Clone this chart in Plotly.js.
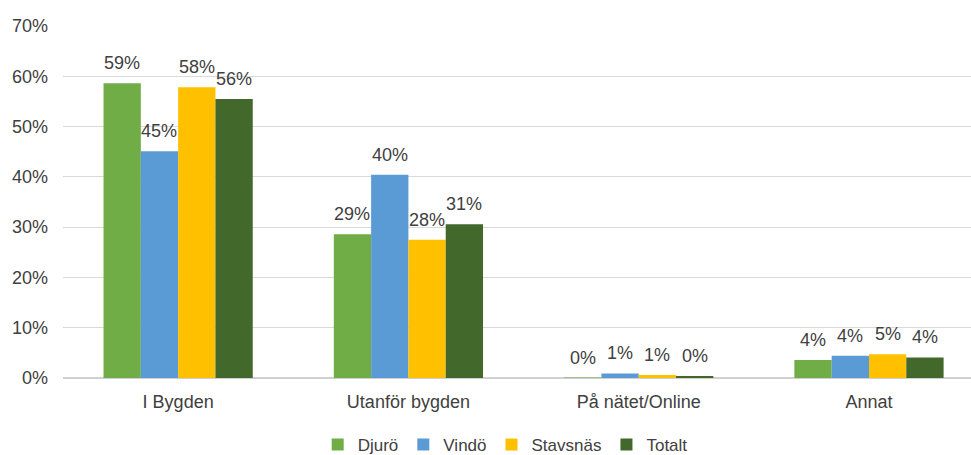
<!DOCTYPE html>
<html>
<head>
<meta charset="utf-8">
<script src="https://cdn.plot.ly/plotly-3.0.1.min.js"></script>
<style>html,body{margin:0;padding:0;background:#fff;}#chart{width:971px;height:455px;}</style>
</head>
<body>
<div id="chart"></div>
<script>
const categories = ["I Bygden", "Utanför bygden", "På nätet/Online", "Annat"];
const seriesNames = ["Djurö", "Vindö", "Stavsnäs", "Totalt"];
const djuro = [58.6, 28.6, 0.1, 3.6];
const vindo = [45.1, 40.4, 0.9, 4.4];
const stavsnas = [57.8, 27.5, 0.6, 4.7];
const totalt = [55.5, 30.6, 0.4, 4.1];
const yTickVals = [0, 10, 20, 30, 40, 50, 60, 70];
const yTickText = ["0%", "10%", "20%", "30%", "40%", "50%", "60%", "70%"];

const colors = ["#70AD47", "#5B9BD5", "#FFC000", "#43682B"];
const allValues = [djuro, vindo, stavsnas, totalt];
const fontFam = "Liberation Sans, Arial, sans-serif";
const textColor = "#404040";

const W = 971, H = 455;
const margin = {l: 63, r: 0, t: 26, b: 77, autoexpand: false};
const xRange = [-0.5, 3.443];
const bargap = 0.352;

const traces = allValues.map((vals, i) => ({
  type: "bar",
  name: seriesNames[i],
  x: categories,
  y: vals,
  marker: {color: colors[i]},
  hoverinfo: "skip"
}));

// value labels, placed through the axes (category + value), offset to each bar of the group
const pxPerCat = (W - margin.l - margin.r) / (xRange[1] - xRange[0]);
const barPx = pxPerCat * (1 - bargap) / allValues.length;
const annotations = [];
allValues.forEach((vals, i) => {
  vals.forEach((v, j) => {
    annotations.push({
      x: categories[j], y: v, xref: "x", yref: "y",
      text: Math.round(v) + "%",
      showarrow: false,
      xanchor: "center", yanchor: "bottom",
      xshift: (i - (allValues.length - 1) / 2) * barPx,
      yshift: 8,
      font: {family: fontFam, size: 18, color: textColor}
    });
  });
});

const layout = {
  width: W,
  height: H,
  margin: margin,
  paper_bgcolor: "#fff",
  plot_bgcolor: "#fff",
  barmode: "group",
  bargap: bargap,
  bargroupgap: 0,
  font: {family: fontFam, size: 18, color: textColor},
  annotations: annotations,
  xaxis: {
    type: "category",
    range: xRange,
    automargin: false,
    tickangle: 0,
    showgrid: false,
    showline: false,
    ticks: "",
    ticklabelstandoff: 11,
    tickfont: {family: fontFam, size: 18, color: textColor},
    fixedrange: true
  },
  yaxis: {
    range: [0, 70],
    automargin: false,
    tickvals: yTickVals,
    ticktext: yTickText,
    showgrid: true,
    gridcolor: "#d9d9d9",
    gridwidth: 1,
    zeroline: true,
    zerolinecolor: "#d0d0d0",
    zerolinewidth: 1.5,
    showline: false,
    ticks: "",
    ticklabelstandoff: 14,
    tickfont: {family: fontFam, size: 18, color: textColor},
    fixedrange: true
  },
  showlegend: true,
  legend: {
    orientation: "h",
    x: 0.487,
    xref: "paper",
    xanchor: "center",
    y: -0.19,
    yref: "paper",
    yanchor: "middle",
    font: {family: fontFam, size: 17, color: textColor},
    itemwidth: 30,
    traceorder: "normal"
  }
};

Plotly.newPlot("chart", traces, layout, {displayModeBar: false, staticPlot: true});
</script>
</body>
</html>
